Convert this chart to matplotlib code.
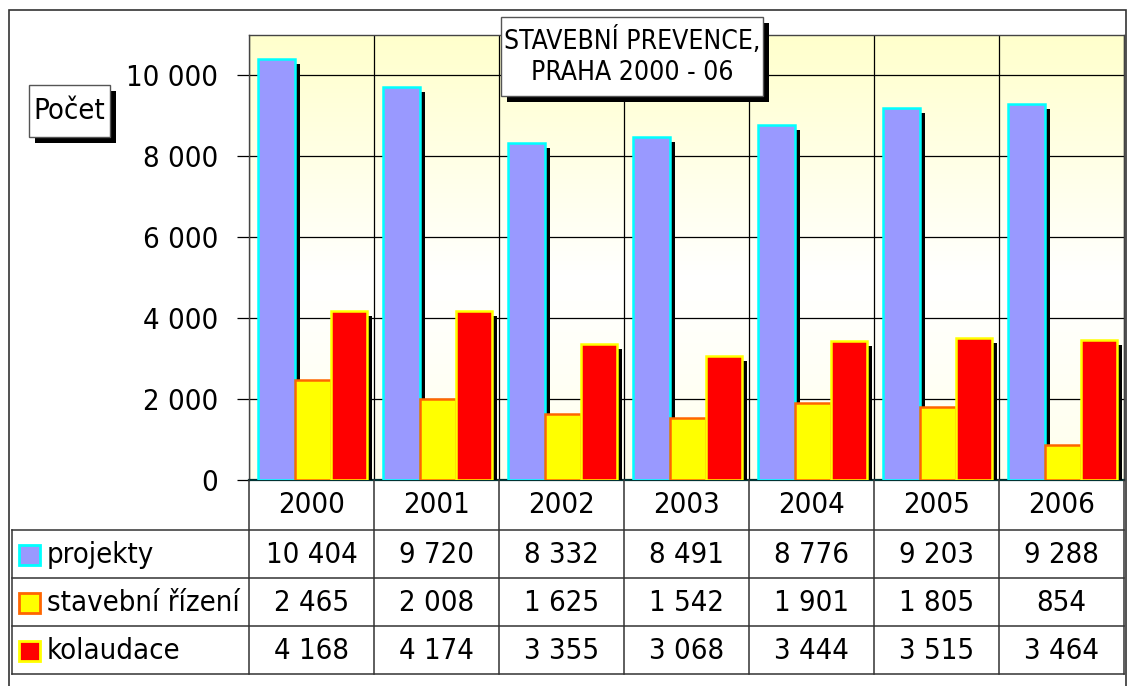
import numpy as np
import matplotlib
matplotlib.use('Agg')
import matplotlib.pyplot as plt
import matplotlib.patheffects as pe
from matplotlib.patches import Rectangle
from matplotlib.lines import Line2D
from matplotlib.colors import LinearSegmentedColormap
from matplotlib.ticker import FuncFormatter

# Data
years = ['2000', '2001', '2002', '2003', '2004', '2005', '2006']
projekty = [10404, 9720, 8332, 8491, 8776, 9203, 9288]
stavebni_rizeni = [2465, 2008, 1625, 1542, 1901, 1805, 854]
kolaudace = [4168, 4174, 3355, 3068, 3444, 3515, 3464]
series_names = ['projekty', 'stavební řízení', 'kolaudace']
y_ticks = [0, 2000, 4000, 6000, 8000, 10000]

face_colors = ['#9999FF', '#FFFF00', '#FF0000']
edge_colors = ['#00FFFF', '#FF6600', '#FFFF00']

plt.rcParams['font.family'] = ['DejaVu Sans']
plt.rcParams['font.stretch'] = 'condensed'

W, H = 1127, 686
fig = plt.figure(figsize=(W / 100, H / 100), dpi=100)


def fx(x):
    return x / W


def fy(y):
    return 1 - y / H


def fmt_num(v):
    return f'{int(v):,}'.replace(',', ' ')


# outer chart border
fig.add_artist(Rectangle((fx(9), fy(690)), fx(1126) - fx(9), fy(10) - fy(690),
                         transform=fig.transFigure, fill=False, ec='#333333', lw=1.2))

# plot area
L, R, T, B = 249, 1124, 35, 480
ax = fig.add_axes([fx(L), fy(B), fx(R) - fx(L), fy(T) - fy(B)])

grad = LinearSegmentedColormap.from_list(
    'bg', [(0, '#FFFFEC'), (0.45, '#FFFFFF'), (1, '#FFFFCC')])
ax.imshow(np.linspace(0, 1, 256).reshape(-1, 1), cmap=grad, aspect='auto',
          extent=[0, 1, 0, 1], transform=ax.transAxes, origin='lower', zorder=0)

x = np.arange(len(years))
w = 0.29
shadow = [pe.SimplePatchShadow(offset=(3.6, -3.6), shadow_rgbFace='black', alpha=1.0),
          pe.Normal()]
for i, vals in enumerate([projekty, stavebni_rizeni, kolaudace]):
    ax.bar(x + (i - 1) * w + 0.01, vals, w, color=face_colors[i], edgecolor=edge_colors[i],
           linewidth=1.8, path_effects=shadow, zorder=3)

ax.set_xlim(-0.5, len(years) - 0.5)
ax.set_ylim(0, 11000)
ax.set_yticks(y_ticks)
ax.yaxis.set_major_formatter(FuncFormatter(lambda v, p: fmt_num(v)))
ax.set_xticks(np.arange(-0.5, len(years), 1), minor=True)
ax.set_xticks([])
ax.grid(True, axis='y', color='black', lw=0.9, zorder=1)
ax.grid(True, axis='x', which='minor', color='black', lw=0.9, zorder=1)
ax.set_axisbelow(True)
ax.tick_params(axis='y', length=9, width=0.9, pad=13, labelsize=21)
ax.tick_params(axis='x', which='both', length=0, labelbottom=False)
for s in ['left', 'top', 'right']:
    ax.spines[s].set_color('#444444')
    ax.spines[s].set_linewidth(1.0)
ax.spines['bottom'].set_color('#003333')
ax.spines['bottom'].set_linewidth(1.6)

# data table below the plot
col_w = (R - L) / len(years)
row_lines = [530, 578, 626, 674]
row_centers = [555, 603, 651]
fs = 21
line_kw = dict(transform=fig.transFigure, color='#333333', lw=1.1)

for k in range(len(years) + 1):
    xx = L + k * col_w
    fig.add_artist(Line2D([fx(xx), fx(xx)], [fy(B), fy(674)], **line_kw))
for yy in row_lines:
    fig.add_artist(Line2D([fx(12), fx(R)], [fy(yy), fy(yy)], **line_kw))
fig.add_artist(Line2D([fx(12), fx(12)], [fy(530), fy(674)], **line_kw))

for j, yr in enumerate(years):
    fig.text(fx(L + (j + 0.5) * col_w), fy(505), yr, ha='center', va='center', fontsize=fs)

for r, (name, vals) in enumerate(zip(series_names, [projekty, stavebni_rizeni, kolaudace])):
    yc = row_centers[r]
    fig.add_artist(Rectangle((fx(19), fy(yc + 10)), fx(40) - fx(19), fy(yc - 10) - fy(yc + 10),
                             transform=fig.transFigure, fc=face_colors[r],
                             ec=edge_colors[r], lw=2))
    fig.text(fx(47), fy(yc), name, ha='left', va='center', fontsize=fs)
    for j, v in enumerate(vals):
        fig.text(fx(L + (j + 0.5) * col_w), fy(yc), fmt_num(v),
                 ha='center', va='center', fontsize=fs)


# boxes with shadow
def shadow_box(x0, y0, x1, y1, text, size):
    fig.add_artist(Rectangle((fx(x0 + 6), fy(y1 + 6)), fx(x1) - fx(x0), fy(y0) - fy(y1),
                             transform=fig.transFigure, fc='black', ec='none', zorder=5))
    fig.add_artist(Rectangle((fx(x0), fy(y1)), fx(x1) - fx(x0), fy(y0) - fy(y1),
                             transform=fig.transFigure, fc='white', ec='#555555',
                             lw=1.0, zorder=6))
    fig.text(fx((x0 + x1) / 2), fy((y0 + y1) / 2), text, ha='center', va='center',
             fontsize=size, linespacing=1.3, zorder=7)


shadow_box(501, 17, 763, 96, 'STAVEBNÍ PREVENCE,\nPRAHA 2000 - 06', 19)
shadow_box(29, 85, 110, 137, 'Počet', 21)

fig.savefig('out.png', dpi=100)
